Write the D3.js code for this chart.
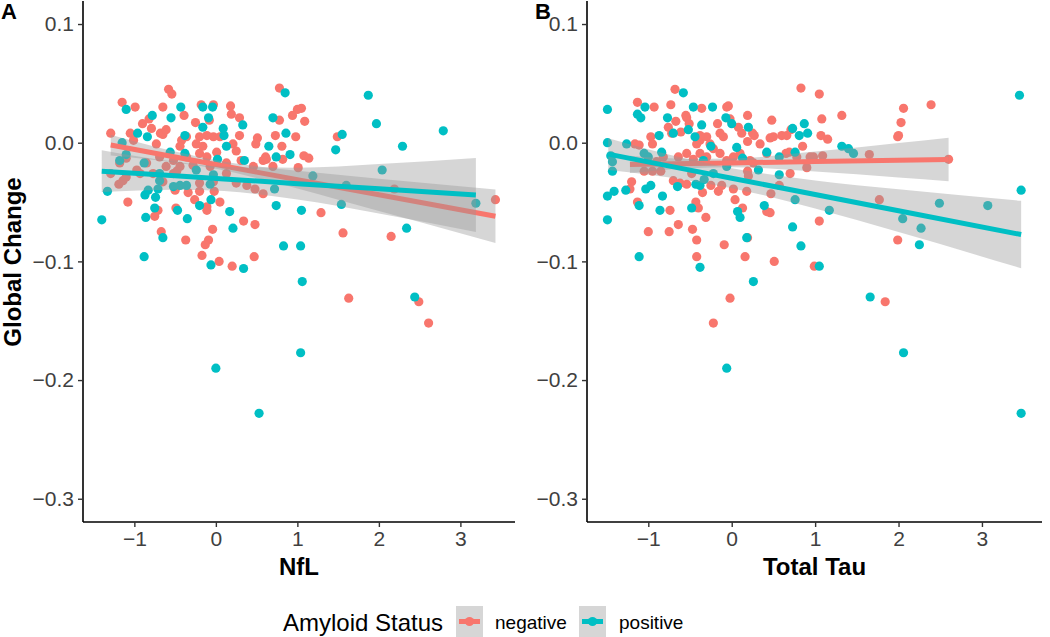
<!DOCTYPE html>
<html>
<head>
<meta charset="utf-8">
<script src="https://cdn.jsdelivr.net/npm/d3@7"></script>
<style>
  html, body { margin: 0; padding: 0; background: #ffffff; }
  svg { display: block; font-family: "Liberation Sans", Arial, Helvetica, sans-serif; }
</style>
</head>
<body>
<svg id="chart" width="1050" height="637"></svg>
<script>
// ---------------- DATA ----------------
const groups = ["negative", "positive"];
const yTicks = [-0.3, -0.2, -0.1, 0.0, 0.1];
const xTicks = [-1, 0, 1, 2, 3];
const panelLabels = ["A", "B"];
const xTitles = ["NfL", "Total Tau"];
const yTitle = "Global Change";
const legendTitle = "Amyloid Status";

// Panel A: NfL vs Global Change  [x, y]
const nflNegative = [
  [-0.58,0.045],[-0.54,0.041],[-1.15,0.034],[-0.99,0.030],[-0.65,0.030],[-0.18,0.032],[-0.03,0.032],[0.18,0.031],
  [0.78,0.046],[1.00,0.028],[1.05,0.029],[-0.39,0.023],[0.19,0.024],[0.94,0.023],[-0.90,0.016],[-0.82,0.020],
  [-0.79,0.012],[-0.25,0.017],[-0.08,0.019],[0.29,0.021],[1.09,0.018],[0.78,0.019],[-1.29,0.008],[-1.05,0.008],
  [-0.68,0.008],[-0.65,0.007],[-0.61,0.011],[-0.20,0.005],[-0.11,0.006],[-0.03,0.005],[0.05,0.005],[0.29,0.006],
  [0.51,0.004],[0.73,0.006],[0.98,0.005],[1.49,0.005],[-0.36,0.005],[-0.42,0.002],[-0.24,-0.001],[-0.16,-0.003],
  [-1.01,0.002],[-0.73,-0.001],[-0.44,-0.003],[0.49,-0.001],[0.21,-0.001],[0.81,-0.003],[0.25,-0.007],[-0.20,-0.009],
  [-0.11,-0.012],[0.01,-0.008],[-0.36,-0.012],[-0.52,-0.015],[-0.69,-0.012],[0.31,-0.015],[0.61,-0.012],[0.62,-0.014],
  [0.82,-0.014],[1.08,-0.011],[1.14,-0.013],[1.01,-0.021],[0.58,-0.015],[0.70,-0.020],[-0.85,-0.017],[-1.10,-0.013],
  [-1.18,-0.017],[-0.97,-0.023],[-0.61,-0.020],[-0.44,-0.020],[-0.28,-0.019],[-0.07,-0.020],[0.13,-0.017],[0.46,-0.020],
  [-1.29,-0.026],[-1.14,-0.032],[-1.10,-0.029],[-0.93,-0.026],[-0.77,-0.026],[-0.65,-0.033],[-0.52,-0.026],[-1.19,-0.035],
  [-0.48,-0.024],[0.13,-0.026],[0.25,-0.034],[0.38,-0.036],[0.48,-0.039],[0.58,-0.043],[-0.34,-0.042],[-0.26,-0.048],
  [-0.20,-0.041],[-0.02,-0.041],[-1.08,-0.050],[-0.50,-0.040],[0.05,-0.050],[2.19,-0.039],[3.43,-0.048],[-0.20,-0.034],
  [-0.03,-0.033],[-0.49,-0.055],[-0.11,-0.054],[-0.11,-0.057],[-0.71,-0.057],[-0.75,-0.062],[1.29,-0.059],[0.34,-0.066],
  [0.48,-0.069],[-0.04,-0.073],[-0.67,-0.075],[1.56,-0.076],[2.15,-0.079],[-0.37,-0.082],[-0.09,-0.082],[-0.13,-0.086],
  [-0.17,-0.095],[0.47,-0.096],[0.04,-0.100],[0.20,-0.104],[1.63,-0.131],[2.49,-0.134],[2.61,-0.152]
];
const nflPositive = [
  [-1.10,0.028],[-0.78,0.023],[-0.43,0.030],[-0.55,0.021],[-0.16,0.030],[-0.04,0.030],[-0.09,0.021],[-0.16,0.013],
  [0.09,0.012],[0.33,0.015],[0.70,0.021],[0.85,0.042],[1.87,0.040],[1.97,0.016],[2.79,0.010],[-0.96,0.008],
  [-0.84,0.005],[-1.15,0.000],[-0.38,0.006],[-0.38,-0.009],[0.10,0.006],[0.13,-0.003],[0.65,-0.003],[0.86,0.008],
  [0.91,-0.010],[0.74,-0.012],[0.35,-0.015],[0.02,-0.014],[-0.56,-0.008],[1.47,-0.006],[1.55,0.007],[2.29,-0.003],
  [2.04,-0.023],[1.19,-0.028],[-1.18,-0.015],[-1.10,-0.010],[-0.88,-0.017],[-0.03,-0.027],[-0.69,-0.032],[-0.52,-0.037],
  [-0.44,-0.036],[-0.36,-0.036],[-0.07,-0.035],[0.72,-0.039],[-1.33,-0.041],[-0.87,-0.044],[-0.83,-0.040],[-0.74,-0.046],
  [-0.71,-0.039],[1.60,-0.036],[-1.40,-0.065],[-0.86,-0.063],[-0.75,-0.055],[-0.47,-0.057],[-0.35,-0.064],[-0.20,-0.053],
  [-0.06,-0.048],[0.17,-0.058],[0.21,-0.072],[0.74,-0.053],[1.05,-0.057],[1.54,-0.052],[2.34,-0.072],[3.19,-0.051],
  [-0.65,-0.080],[-0.88,-0.096],[-0.06,-0.103],[0.34,-0.106],[0.83,-0.087],[1.04,-0.087],[-0.69,-0.026],[-0.24,-0.023],
  [1.06,-0.117],[2.44,-0.130],[1.04,-0.177],[0.00,-0.190],[0.53,-0.228]
];

// Panel B: Total Tau vs Global Change  [x, y]
const tauNegative = [
  [-0.68,0.045],[-1.13,0.034],[-0.93,0.030],[-0.73,0.032],[-0.36,0.029],[-0.06,0.030],[-0.04,0.031],[-0.55,0.023],
  [-0.54,0.021],[-0.67,0.018],[-0.76,0.013],[-0.72,0.008],[-0.61,0.009],[-0.51,0.016],[-0.17,0.016],[-0.02,0.020],
  [0.08,0.013],[0.12,0.008],[0.19,0.023],[0.25,0.008],[0.27,0.006],[0.19,0.001],[0.34,-0.001],[0.48,0.019],
  [0.46,0.004],[0.50,0.005],[0.60,0.006],[0.66,0.006],[0.71,0.011],[0.83,0.046],[1.05,0.041],[1.08,0.020],
  [1.07,0.006],[1.15,0.003],[0.85,-0.003],[1.32,0.023],[2.06,0.029],[2.03,0.017],[1.99,0.005],[2.00,0.006],
  [2.39,0.032],[1.65,-0.010],[1.77,-0.048],[2.60,-0.014],[-0.97,0.005],[-0.95,-0.001],[-1.16,-0.001],[-1.11,-0.002],
  [-0.82,-0.012],[-0.64,-0.012],[-0.54,-0.009],[-0.46,-0.014],[-0.38,-0.009],[-0.30,-0.012],[-0.22,-0.005],[-0.14,-0.009],
  [-0.06,-0.015],[0.02,-0.012],[0.10,-0.009],[0.22,-0.015],[0.26,-0.017],[0.42,-0.009],[0.65,-0.009],[0.69,-0.008],
  [0.78,-0.012],[0.94,-0.012],[0.98,-0.012],[1.09,-0.011],[0.90,-0.021],[0.70,-0.026],[-0.38,0.002],[-0.30,0.005],
  [-0.42,-0.001],[-0.26,-0.001],[-0.14,0.008],[-0.10,0.005],[-0.38,0.006],[-0.90,-0.016],[-1.05,-0.024],[-0.95,-0.024],
  [-0.85,-0.024],[-1.20,-0.033],[-1.22,-0.039],[-0.70,-0.032],[-0.62,-0.034],[-0.54,-0.035],[-0.48,-0.026],[-0.35,-0.042],
  [-0.25,-0.036],[-0.16,-0.041],[-0.12,-0.036],[0.02,-0.039],[0.18,-0.041],[0.19,-0.024],[0.20,-0.028],[0.47,-0.043],
  [0.57,-0.036],[-1.13,-0.050],[-0.74,-0.057],[-1.00,-0.075],[-0.75,-0.075],[-0.64,-0.069],[-0.47,-0.073],[-0.43,-0.050],
  [-0.40,-0.055],[-0.31,-0.063],[0.04,-0.048],[0.13,-0.055],[-0.42,-0.082],[-0.09,-0.086],[-0.42,-0.096],[0.16,-0.096],
  [0.19,-0.080],[0.42,-0.058],[0.46,-0.059],[0.51,-0.100],[0.99,-0.104],[1.05,-0.066],[1.99,-0.082],
  [-0.02,-0.131],[-0.22,-0.152],[1.84,-0.134]
];
const tauPositive = [
  [-1.49,0.028],[-1.49,0.000],[-1.49,-0.045],[-1.49,-0.065],[-1.45,-0.011],[-1.43,-0.016],[-1.43,-0.024],[-1.41,-0.041],
  [-1.26,-0.001],[-1.27,-0.040],[-1.13,0.024],[-1.09,0.021],[-1.04,0.030],[-1.11,-0.053],[-1.03,-0.039],[-0.97,-0.036],
  [-1.05,-0.009],[-1.00,-0.012],[-0.87,0.006],[-0.84,-0.008],[-0.83,-0.045],[-0.86,-0.057],[-0.77,0.021],[-0.70,0.008],
  [-0.65,-0.037],[-0.58,0.042],[-0.52,0.011],[-0.46,0.030],[-0.44,0.005],[-0.48,-0.055],[-0.36,0.015],[-0.23,0.030],
  [-0.25,-0.003],[-0.34,-0.015],[-0.43,-0.035],[-0.33,-0.031],[-0.38,-0.036],[-0.07,0.021],[0.00,0.016],[0.06,-0.004],
  [0.07,-0.058],[0.10,-0.063],[0.20,0.013],[0.13,-0.013],[0.18,-0.080],[0.32,-0.023],[0.39,-0.053],[0.42,-0.008],
  [0.57,-0.012],[0.57,-0.027],[0.73,0.012],[0.81,0.006],[0.87,0.016],[0.91,0.008],[0.76,-0.008],[0.76,-0.048],
  [0.73,-0.071],[0.83,-0.087],[1.17,-0.057],[1.32,-0.003],[1.40,-0.005],[1.46,-0.009],[2.05,-0.064],[2.27,-0.072],
  [2.25,-0.086],[2.49,-0.051],[3.07,-0.053],[3.45,0.040],[3.47,-0.040],[-0.38,-0.105],[-1.11,-0.096],[1.05,-0.104],
  [-0.22,-0.026],[-0.06,-0.020],
  [-0.06,-0.190],[1.66,-0.130],[2.06,-0.177],[3.47,-0.228],[0.26,-0.117]
];

// Linear fits with 95% confidence band: [x, lower, fit, upper]
const nflNegativeFit = [
  [-1.29,-0.0107,-0.0020,0.0067],[-0.5,-0.0167,-0.0121,-0.0075],[0,-0.0220,-0.0184,-0.0148],[0.5,-0.0298,-0.0248,-0.0198],
  [1.5,-0.0480,-0.0375,-0.0270],[2.5,-0.0669,-0.0502,-0.0335],[3.43,-0.0845,-0.0620,-0.0395]
];
const nflPositiveFit = [
  [-1.40,-0.0416,-0.0240,-0.0064],[-0.5,-0.0397,-0.0279,-0.0161],[0.1,-0.0408,-0.0305,-0.0202],[1,-0.0479,-0.0345,-0.0211],
  [2,-0.0596,-0.0388,-0.0180],[3.19,-0.0752,-0.0440,-0.0128]
];
const tauNegativeFit = [
  [-1.22,-0.0256,-0.0183,-0.0110],[-0.5,-0.0215,-0.0176,-0.0136],[0,-0.0207,-0.0170,-0.0133],[1,-0.0243,-0.0159,-0.0075],
  [2,-0.0293,-0.0148,-0.0003],[2.60,-0.0324,-0.0141,0.0042]
];
const tauPositiveFit = [
  [-1.48,-0.0230,-0.0096,0.0038],[-0.5,-0.0320,-0.0231,-0.0142],[0,-0.0383,-0.0299,-0.0215],[1,-0.0554,-0.0436,-0.0318],
  [2,-0.0753,-0.0573,-0.0393],[3.47,-0.1058,-0.0774,-0.0490]
];

// ---------------- DRAW ----------------
const colors = d3.scaleOrdinal().domain(groups).range(["#F8766D", "#00BFC4"]);
const svg = d3.select("#chart");
const plotTop = 1, plotBottom = 522;
const yDomain = [-0.3196, 0.1194];

const panels = [
  { label: panelLabels[0], title: xTitles[0], x0: 83, x1: 515, xDomain: [-1.63, 3.67], labelX: 1,
    points: [nflNegative, nflPositive], fits: [nflNegativeFit, nflPositiveFit] },
  { label: panelLabels[1], title: xTitles[1], x0: 587, x1: 1042, xDomain: [-1.735, 3.72], labelX: 535,
    points: [tauNegative, tauPositive], fits: [tauNegativeFit, tauPositiveFit] }
];

panels.forEach(p => {
  const x = d3.scaleLinear().domain(p.xDomain).range([p.x0, p.x1]);
  const y = d3.scaleLinear().domain(yDomain).range([plotBottom, plotTop]);
  const g = svg.append("g");

  // points
  groups.forEach((grp, i) => {
    g.append("g").selectAll("circle").data(p.points[i]).join("circle")
      .attr("cx", d => x(d[0])).attr("cy", d => y(d[1])).attr("r", 4.6)
      .attr("fill", colors(grp));
  });

  // smooth: ribbon then line per group
  groups.forEach((grp, i) => {
    const fit = p.fits[i];
    g.append("path").datum(fit)
      .attr("d", d3.area().x(d => x(d[0])).y0(d => y(d[1])).y1(d => y(d[3])).curve(d3.curveMonotoneX))
      .attr("fill", "#999999").attr("fill-opacity", 0.4);
    g.append("path").datum(fit)
      .attr("d", d3.line().x(d => x(d[0])).y(d => y(d[2])))
      .attr("fill", "none").attr("stroke", colors(grp)).attr("stroke-width", 5);
  });

  // axes
  const yAxis = d3.axisLeft(y).tickValues(yTicks).tickSize(5).tickPadding(4)
    .tickFormat(d => d3.format(".1f")(d).replace("-", "\u2212"));
  const xAxis = d3.axisBottom(x).tickValues(xTicks).tickSize(5).tickPadding(4)
    .tickFormat(d => d3.format("d")(d).replace("-", "\u2212"));

  const ya = g.append("g").attr("transform", `translate(${p.x0},0)`).call(yAxis);
  const xa = g.append("g").attr("transform", `translate(0,${plotBottom})`).call(xAxis);
  [ya, xa].forEach(a => {
    a.select(".domain").attr("stroke", "#000").attr("stroke-width", 1.6);
    a.selectAll(".tick line").attr("stroke", "#333333").attr("stroke-width", 1.4);
    a.selectAll(".tick text").attr("fill", "#404040").style("font-size", "21px")
      .style("font-family", "'Liberation Sans', Arial, sans-serif");
  });
  ya.select(".domain").attr("d", `M-0,${plotTop}V${plotBottom}`);
  xa.select(".domain").attr("d", `M${p.x0},0H${p.x1}`);

  // x title
  svg.append("text").attr("x", (p.x0 + p.x1) / 2).attr("y", 575)
    .attr("text-anchor", "middle").style("font-size", "24px").style("font-weight", "bold")
    .attr("fill", "#000").text(p.title);

  // panel label
  svg.append("text").attr("x", p.labelX).attr("y", 19)
    .style("font-size", "22px").style("font-weight", "bold").attr("fill", "#000").text(p.label);
});

// y title
svg.append("text").attr("transform", "translate(21,262) rotate(-90)")
  .attr("text-anchor", "middle").style("font-size", "24px").style("font-weight", "bold")
  .attr("fill", "#000").text(yTitle);

// legend
const lg = svg.append("g");
lg.append("text").attr("x", 283).attr("y", 631).style("font-size", "24px").attr("fill", "#000").text(legendTitle);
const keyX = [456, 579];
const labX = [495, 619];
groups.forEach((grp, i) => {
  const kx = keyX[i];
  lg.append("rect").attr("x", kx).attr("y", 606).attr("width", 27).attr("height", 31)
    .attr("fill", "#999999").attr("fill-opacity", 0.4);
  lg.append("line").attr("x1", kx + 3).attr("x2", kx + 24).attr("y1", 621.5).attr("y2", 621.5)
    .attr("stroke", colors(grp)).attr("stroke-width", 5);
  lg.append("circle").attr("cx", kx + 13.5).attr("cy", 621.5).attr("r", 4.6).attr("fill", colors(grp));
  lg.append("text").attr("x", labX[i]).attr("y", 629).style("font-size", "19px").attr("fill", "#000").text(grp);
});
</script>
</body>
</html>
